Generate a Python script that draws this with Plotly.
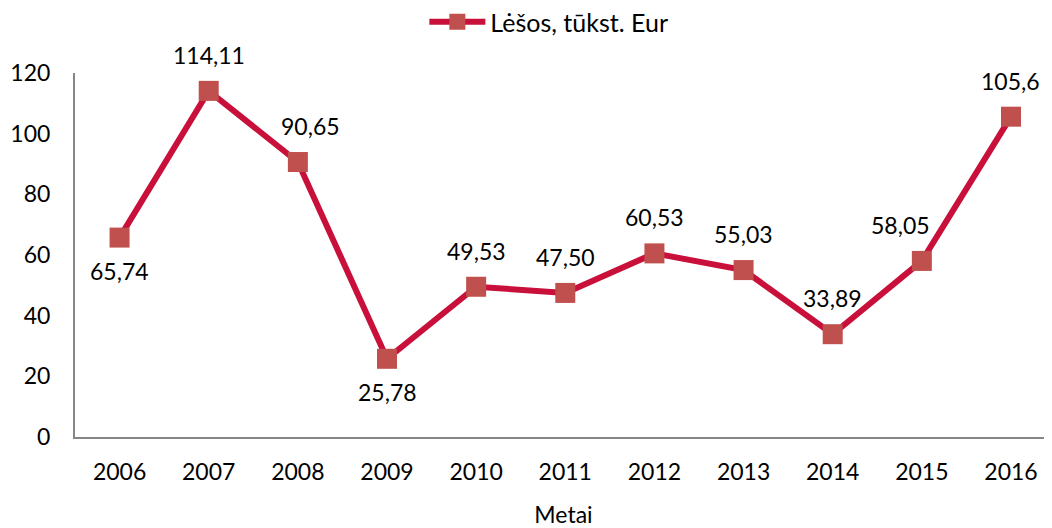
import plotly.graph_objects as go

years = [2006, 2007, 2008, 2009, 2010, 2011, 2012, 2013, 2014, 2015, 2016]
values = [65.74, 114.11, 90.65, 25.78, 49.53, 47.50, 60.53, 55.03, 33.89, 58.05, 105.6]
value_labels = ["65,74", "114,11", "90,65", "25,78", "49,53", "47,50",
                "60,53", "55,03", "33,89", "58,05", "105,6"]
y_ticks = [0, 20, 40, 60, 80, 100, 120]

series_name = "Lėšos, tūkst. Eur"
x_title = "Metai"

# label placement (style, not data)
labels_below = {2006, 2009}
label_dx = {2008: 13, 2015: -21}

FONT = "Lato"
FS = 23
LINE_COLOR = "#C8103A"
MARKER_COLOR = "#C0504D"
AXIS_COLOR = "#868686"

fig = go.Figure()
fig.add_trace(go.Scatter(
    x=years, y=values, name=series_name, mode="lines+markers",
    line=dict(color=LINE_COLOR, width=6),
    marker=dict(symbol="square", size=20, color=MARKER_COLOR, line=dict(width=0)),
))

for yr, v, lab in zip(years, values, value_labels):
    fig.add_annotation(
        x=yr, y=v, text=lab, showarrow=False,
        xshift=label_dx.get(yr, 0),
        yshift=-33 if yr in labels_below else 36,
        font=dict(family=FONT, size=FS, color="black"),
    )

# page body has an 8px margin, so the figure is sized/offset to compensate
fig.update_layout(
    width=1044, height=520,
    margin=dict(l=67, r=0, t=65, b=91, autoexpand=False),
    paper_bgcolor="white", plot_bgcolor="white",
    font=dict(family=FONT, size=FS, color="black"),
    showlegend=True,
    legend=dict(orientation="h", x=0.485, xanchor="center", y=1.14, yanchor="middle",
                itemwidth=56,
                font=dict(family=FONT, size=25, color="black")),
    xaxis=dict(
        range=[2005.5, 2016.46], tickvals=years, ticktext=[str(y) for y in years],
        showgrid=False, zeroline=False, showline=True, linecolor=AXIS_COLOR, linewidth=2,
        ticks="", ticklabelstandoff=13, automargin=False,
        title=dict(text=x_title, standoff=23, font=dict(family=FONT, size=FS)),
    ),
    yaxis=dict(
        range=[0, 120], tickvals=y_ticks, showgrid=False, zeroline=False,
        showline=True, linecolor=AXIS_COLOR, linewidth=2, ticks="",
        ticklabelstandoff=18, automargin=False,
    ),
)

fig.write_html("out.html")
